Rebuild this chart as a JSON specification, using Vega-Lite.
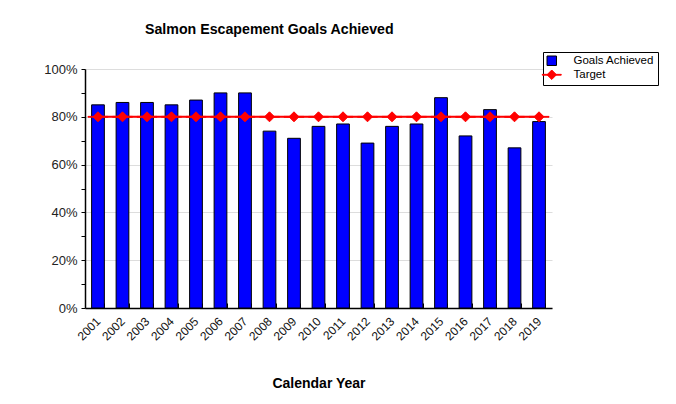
{
  "$schema": "https://vega.github.io/schema/vega-lite/v6.json",
  "width": 467,
  "height": 239,
  "autosize": {"type": "none"},
  "padding": {"left": 85, "top": 69, "right": 124, "bottom": 96},
  "background": "white",
  "title": {
    "text": "Salmon Escapement Goals Achieved",
    "font": "Liberation Sans",
    "fontSize": 14.2,
    "fontWeight": "bold",
    "color": "#000000",
    "anchor": "start",
    "frame": "group",
    "dx": 60,
    "offset": 14
  },
  "config": {
    "view": {"stroke": null},
    "axis": {"labelFont": "Liberation Sans", "titleFont": "Liberation Sans"}
  },
  "data": {
    "values": [
      {"year": "2001", "series": "Goals Achieved", "value": 0.85},
      {"year": "2002", "series": "Goals Achieved", "value": 0.86},
      {"year": "2003", "series": "Goals Achieved", "value": 0.86},
      {"year": "2004", "series": "Goals Achieved", "value": 0.85},
      {"year": "2005", "series": "Goals Achieved", "value": 0.87},
      {"year": "2006", "series": "Goals Achieved", "value": 0.90},
      {"year": "2007", "series": "Goals Achieved", "value": 0.90},
      {"year": "2008", "series": "Goals Achieved", "value": 0.74},
      {"year": "2009", "series": "Goals Achieved", "value": 0.71},
      {"year": "2010", "series": "Goals Achieved", "value": 0.76},
      {"year": "2011", "series": "Goals Achieved", "value": 0.77},
      {"year": "2012", "series": "Goals Achieved", "value": 0.69},
      {"year": "2013", "series": "Goals Achieved", "value": 0.76},
      {"year": "2014", "series": "Goals Achieved", "value": 0.77},
      {"year": "2015", "series": "Goals Achieved", "value": 0.88},
      {"year": "2016", "series": "Goals Achieved", "value": 0.72},
      {"year": "2017", "series": "Goals Achieved", "value": 0.83},
      {"year": "2018", "series": "Goals Achieved", "value": 0.67},
      {"year": "2019", "series": "Goals Achieved", "value": 0.78},
      {"year": "2001", "series": "Target", "value": 0.8},
      {"year": "2002", "series": "Target", "value": 0.8},
      {"year": "2003", "series": "Target", "value": 0.8},
      {"year": "2004", "series": "Target", "value": 0.8},
      {"year": "2005", "series": "Target", "value": 0.8},
      {"year": "2006", "series": "Target", "value": 0.8},
      {"year": "2007", "series": "Target", "value": 0.8},
      {"year": "2008", "series": "Target", "value": 0.8},
      {"year": "2009", "series": "Target", "value": 0.8},
      {"year": "2010", "series": "Target", "value": 0.8},
      {"year": "2011", "series": "Target", "value": 0.8},
      {"year": "2012", "series": "Target", "value": 0.8},
      {"year": "2013", "series": "Target", "value": 0.8},
      {"year": "2014", "series": "Target", "value": 0.8},
      {"year": "2015", "series": "Target", "value": 0.8},
      {"year": "2016", "series": "Target", "value": 0.8},
      {"year": "2017", "series": "Target", "value": 0.8},
      {"year": "2018", "series": "Target", "value": 0.8},
      {"year": "2019", "series": "Target", "value": 0.8}
    ]
  },
  "encoding": {
    "x": {
      "field": "year",
      "type": "ordinal",
      "scale": {"paddingInner": 0.48, "paddingOuter": 0.27},
      "axis": {
        "title": "Calendar Year",
        "titleFontSize": 14,
        "titleFontWeight": "bold",
        "titleColor": "#000000",
        "titlePadding": 34,
        "labelAngle": -45,
        "labelAlign": "right",
        "labelBaseline": "middle",
        "labelFontSize": 12,
        "labelColor": "#111111",
        "labelPadding": 16,
        "tickBand": "extent",
        "tickSize": -5,
        "tickColor": "#000000",
        "domainColor": "#000000",
        "domainWidth": 1.5,
        "grid": false
      }
    },
    "y": {
      "field": "value",
      "type": "quantitative",
      "scale": {"domain": [0, 1]},
      "axis": {
        "title": null,
        "values": [0, 0.1, 0.2, 0.3, 0.4, 0.5, 0.6, 0.7, 0.8, 0.9, 1],
        "format": ".0%",
        "labelExpr": "round(datum.value * 100) % 20 === 0 ? datum.label : ''",
        "labelFontSize": 13,
        "labelColor": "#222222",
        "labelPadding": 4,
        "tickSize": 4,
        "tickColor": "#000000",
        "domainColor": "#000000",
        "domainWidth": 1.5,
        "grid": true,
        "gridColor": "#dddddd",
        "gridOpacity": {"condition": {"test": "round(datum.value * 100) % 20 === 0", "value": 1}, "value": 0}
      }
    }
  },
  "layer": [
    {
      "transform": [{"filter": "datum.series === 'Goals Achieved'"}],
      "mark": {"type": "bar", "color": "#0000ff", "stroke": "#000000", "strokeWidth": 1}
    },
    {
      "transform": [{"filter": "datum.series === 'Target'"}],
      "mark": {"type": "line", "color": "#ff0000", "strokeWidth": 2},
      "encoding": {}
    },
    {
      "transform": [{"filter": "datum.series === 'Target'"}],
      "mark": {"type": "point", "filled": true, "opacity": 1, "size": 100, "strokeWidth": 1},
      "encoding": {
        "color": {
          "field": "series",
          "type": "nominal",
          "scale": {"domain": ["Goals Achieved", "Target"], "range": ["#0000ff", "#ff0000"]},
          "legend": {
            "title": null,
            "orient": "none",
            "legendX": 458,
            "legendY": -17,
            "strokeColor": "#000000",
            "fillColor": "#ffffff",
            "padding": 3,
            "labelFont": "Liberation Sans",
            "labelFontSize": 11.5,
            "labelColor": "#000000",
            "labelOffset": 16,
            "labelExpr": "datum.value === 'Goals Achieved' ? 'Goals Achieved\u00a0\u00a0\u00a0' : datum.label",
            "symbolSize": 90,
            "symbolStrokeWidth": 1,
            "rowPadding": 0
          }
        },
        "stroke": {
          "field": "series",
          "type": "nominal",
          "scale": {"domain": ["Goals Achieved", "Target"], "range": ["#000000", "#ff0000"]}
        },
        "shape": {
          "field": "series",
          "type": "nominal",
          "scale": {"domain": ["Goals Achieved", "Target"], "range": ["square", "M-2,-0.08L2,-0.08L2,0.08L-2,0.08Z M0,-1L1,0L0,1L-1,0Z"]}
        }
      }
    }
  ]
}
